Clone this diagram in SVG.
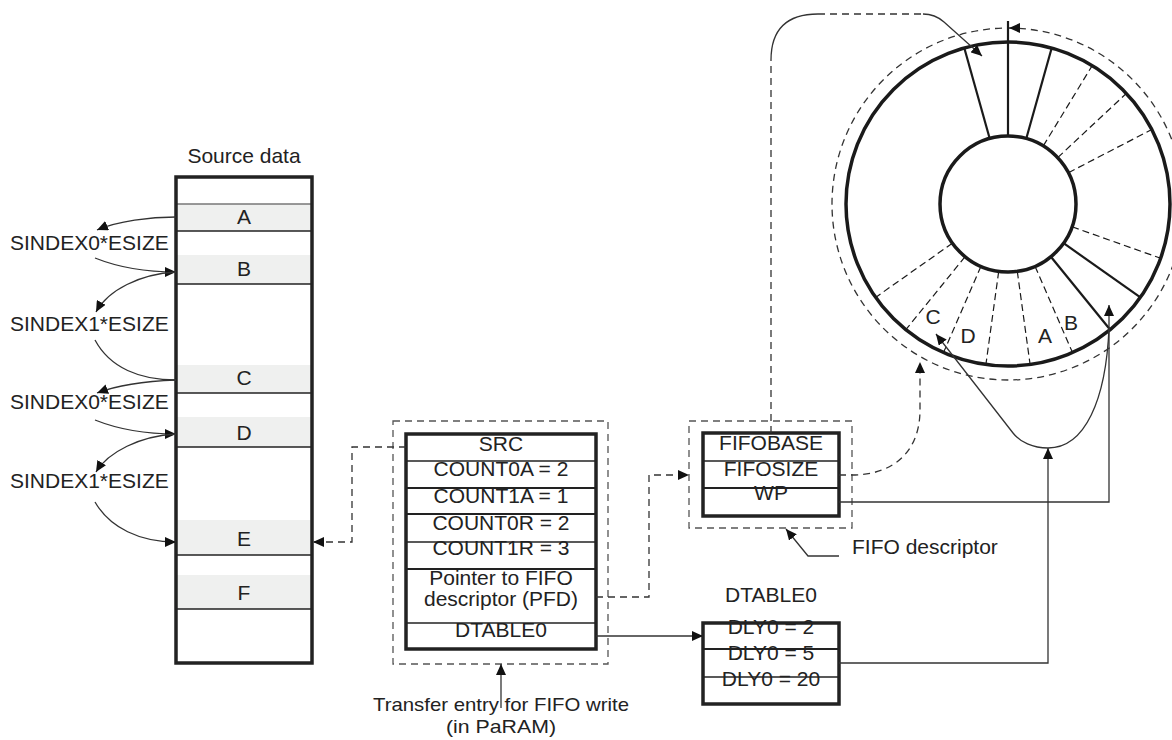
<svg xmlns="http://www.w3.org/2000/svg" width="1172" height="740" viewBox="0 0 1172 740">
  <style>
    text { font-family: "Liberation Sans", Arial, sans-serif; font-size: 21px; fill: #222; }
    .c { text-anchor: middle; }
    .cap { font-size: 19px; }
    .box { fill: none; stroke: #222; stroke-width: 3.5; }
    .thin { stroke: #222; stroke-width: 1.3; fill: none; }
    .mid { stroke: #222; stroke-width: 2.2; fill: none; }
    .grey { stroke: #777; stroke-width: 1.3; fill: none; }
    .frame { fill: none; stroke: #555; stroke-width: 1.3; stroke-dasharray: 7 5; }
    .dash { fill: none; stroke: #333; stroke-width: 1.3; stroke-dasharray: 7 5; }
    .wire { fill: none; stroke: #333; stroke-width: 1.3; }
    .shade { fill: #eff0ef; }
    .ring { fill: none; stroke: #1a1a1a; stroke-width: 3.5; }
    .spoke { stroke: #1a1a1a; stroke-width: 2.2; }
    .dspoke { stroke: #1a1a1a; stroke-width: 1.2; stroke-dasharray: 7 4; }
  </style>
  <defs>
    <marker id="ah" markerUnits="userSpaceOnUse" markerWidth="12" markerHeight="10" refX="11" refY="5" orient="auto">
      <path d="M0,0 L11,5 L0,10 Z" fill="#111"/>
    </marker>
  </defs>

  <!-- Source data column -->
  <g id="source-data">
    <text class="c" x="244" y="163">Source data</text>
    <rect class="shade" x="177" y="204" width="134" height="27"/>
    <rect class="shade" x="177" y="255" width="134" height="29"/>
    <rect class="shade" x="177" y="365" width="134" height="28"/>
    <rect class="shade" x="177" y="417" width="134" height="30"/>
    <rect class="shade" x="177" y="520" width="134" height="35"/>
    <rect class="shade" x="177" y="575" width="134" height="34"/>
    <line class="grey" x1="177" y1="204" x2="311" y2="204"/>
    <line class="thin" x1="177" y1="231" x2="311" y2="231"/>
    <line class="thin" x1="177" y1="284" x2="311" y2="284"/>
    <line class="thin" x1="177" y1="393" x2="311" y2="393"/>
    <line class="thin" x1="177" y1="447" x2="311" y2="447"/>
    <line class="thin" x1="177" y1="555" x2="311" y2="555"/>
    <line class="thin" x1="177" y1="609" x2="311" y2="609"/>
    <rect class="box" x="176" y="177" width="136" height="486"/>
    <text class="c" x="244" y="224">A</text>
    <text class="c" x="244" y="276">B</text>
    <text class="c" x="244" y="385">C</text>
    <text class="c" x="244" y="440">D</text>
    <text class="c" x="244" y="546">E</text>
    <text class="c" x="244" y="600">F</text>
  </g>

  <!-- Index labels -->
  <g id="index-labels">
    <text x="10" y="250">SINDEX0*ESIZE</text>
    <text x="10" y="331">SINDEX1*ESIZE</text>
    <text x="10" y="409">SINDEX0*ESIZE</text>
    <text x="10" y="488">SINDEX1*ESIZE</text>
  </g>

  <!-- Transfer entry (PaRAM) -->
  <g id="param-entry">
    <rect class="frame" x="393" y="421" width="215" height="243"/>
    <line class="thin" x1="406" y1="461" x2="596" y2="461"/>
    <line class="mid" x1="406" y1="488" x2="596" y2="488"/>
    <line class="mid" x1="406" y1="514" x2="596" y2="514"/>
    <line class="thin" x1="406" y1="542" x2="596" y2="542"/>
    <line class="mid" x1="406" y1="569" x2="596" y2="569"/>
    <line class="thin" x1="406" y1="623" x2="596" y2="623"/>
    <rect class="box" x="406" y="434" width="190" height="215"/>
    <text class="c" x="501" y="451">SRC</text>
    <text class="c" x="501" y="476">COUNT0A = 2</text>
    <text class="c" x="501" y="503">COUNT1A = 1</text>
    <text class="c" x="501" y="530">COUNT0R = 2</text>
    <text class="c" x="501" y="555">COUNT1R = 3</text>
    <text class="c" x="501" y="585">Pointer to FIFO</text>
    <text class="c" x="501" y="606">descriptor (PFD)</text>
    <text class="c" x="501" y="637">DTABLE0</text>
    <text class="c cap" x="501" y="711" textLength="256" lengthAdjust="spacingAndGlyphs">Transfer entry for FIFO write</text>
    <text class="c cap" x="501" y="733" textLength="110" lengthAdjust="spacingAndGlyphs">(in PaRAM)</text>
  </g>

  <!-- FIFO descriptor -->
  <g id="fifo-descriptor">
    <rect class="frame" x="689" y="421" width="163" height="107"/>
    <line class="thin" x1="703" y1="461" x2="839" y2="461"/>
    <line class="mid" x1="703" y1="488" x2="839" y2="488"/>
    <rect class="box" x="703" y="433" width="136" height="83"/>
    <text class="c" x="771" y="450">FIFOBASE</text>
    <text class="c" x="771" y="476">FIFOSIZE</text>
    <text class="c" x="771" y="500">WP</text>
    <text x="852" y="554">FIFO descriptor</text>
  </g>

  <!-- Delay table -->
  <g id="dtable0">
    <text class="c" x="771" y="602">DTABLE0</text>
    <line class="mid" x1="703" y1="649" x2="839" y2="649"/>
    <line class="thin" x1="703" y1="677" x2="839" y2="677"/>
    <rect class="box" x="703" y="623" width="136" height="81"/>
    <text class="c" x="771" y="634">DLY0 = 2</text>
    <text class="c" x="771" y="660">DLY0 = 5</text>
    <text class="c" x="771" y="686">DLY0 = 20</text>
  </g>

  <!-- Circular FIFO buffer -->
  <g id="fifo-ring">
    <circle class="dash" cx="1008" cy="204" r="176" stroke-width="1.2"/>
    <polygon points="1009,28 1020,23 1020,33" fill="#111"/>
    <g>
      <line class="spoke" x1="1008" y1="136" x2="1008" y2="21"/>
      <line class="spoke" x1="1026.3" y1="138.5" x2="1051.7" y2="48.0"/>
      <line class="spoke" x1="989.7" y1="138.5" x2="964.3" y2="48.0"/>
      <line class="spoke" x1="1063.6" y1="243.2" x2="1140.4" y2="297.4"/>
      <line class="spoke" x1="1050.9" y1="256.7" x2="1110.2" y2="329.7"/>
      <line class="dspoke" x1="1043.3" y1="145.9" x2="1092.2" y2="65.6"/>
      <line class="dspoke" x1="1057.7" y1="157.6" x2="1126.4" y2="93.4"/>
      <line class="dspoke" x1="1068.4" y1="172.7" x2="1151.8" y2="129.5"/>
      <line class="dspoke" x1="1072.1" y1="226.8" x2="1160.7" y2="258.3"/>
      <line class="dspoke" x1="1035.1" y1="266.4" x2="1072.5" y2="352.6"/>
      <line class="dspoke" x1="1017.3" y1="271.4" x2="1030.1" y2="364.5"/>
      <line class="dspoke" x1="998.7" y1="271.4" x2="985.9" y2="364.5"/>
      <line class="dspoke" x1="980.9" y1="266.4" x2="943.5" y2="352.6"/>
      <line class="dspoke" x1="965.1" y1="256.7" x2="905.8" y2="329.7"/>
      <line class="dspoke" x1="952.4" y1="243.2" x2="875.6" y2="297.4"/>
    </g>
    <circle class="ring" cx="1008" cy="204" r="162"/>
    <circle class="ring" cx="1008" cy="204" r="68"/>
    <text class="c" x="933" y="324">C</text>
    <text class="c" x="968" y="343">D</text>
    <text class="c" x="1045" y="343">A</text>
    <text class="c" x="1071" y="330">B</text>
  </g>

  <!-- Connectors -->
  <g id="connectors">
    <!-- index steps through the source data -->
    <path class="wire" d="M176,217 C150,217 118,221 97,230" marker-end="url(#ah)"/>
    <path class="wire" d="M95,258 C115,266 140,272 176,272" marker-end="url(#ah)"/>
    <path class="wire" d="M176,272 C140,274 108,290 96,312" marker-end="url(#ah)"/>
    <path class="wire" d="M95,340 C110,368 140,380 176,380"/>
    <path class="wire" d="M176,380 C150,381 118,385 97,393" marker-end="url(#ah)"/>
    <path class="wire" d="M95,420 C115,428 140,434 176,434" marker-end="url(#ah)"/>
    <path class="wire" d="M176,434 C140,436 108,452 96,472" marker-end="url(#ah)"/>
    <path class="wire" d="M95,502 C110,528 140,542 176,542" marker-end="url(#ah)"/>

    <!-- SRC to element E -->
    <path class="dash" d="M406,447 L352,447 L352,542 L313,542" marker-end="url(#ah)"/>
    <!-- PFD to FIFO descriptor -->
    <path class="dash" d="M596,597 L649,597 L649,475 L689,475" marker-end="url(#ah)"/>
    <!-- DTABLE0 pointer -->
    <path class="wire" d="M596,636 L703,636" marker-end="url(#ah)"/>
    <!-- PaRAM caption leader -->
    <path class="wire" d="M501,708 L501,664" marker-end="url(#ah)"/>
    <!-- FIFO descriptor caption leader -->
    <path class="wire" d="M839,556 L808,556 L786,529" marker-end="url(#ah)"/>

    <!-- FIFOBASE to start of buffer -->
    <path class="dash" d="M771,433 L771,60"/>
    <path class="wire" d="M771,60 Q771,14 818,14"/>
    <path class="dash" d="M818,14 L923,14"/>
    <path class="wire" d="M923,14 Q935,14 944,22 L982,56" marker-end="url(#ah)"/>

    <!-- FIFOSIZE to buffer extent -->
    <path class="dash" d="M839,475 L852,475 C895,475 920,450 920,410 L920,362" marker-end="url(#ah)"/>

    <!-- WP to write position -->
    <path class="wire" d="M839,502 L1109,502 L1109,305" marker-end="url(#ah)"/>

    <!-- DLY0 to delayed position -->
    <path class="wire" d="M839,663 L1048,663 L1048,448" marker-end="url(#ah)"/>
    <path class="wire" d="M1109,328 C1106,400 1085,448 1048,448 C1033,448 1020,442 1013,433 L936,334" marker-end="url(#ah)"/>
  </g>
</svg>
